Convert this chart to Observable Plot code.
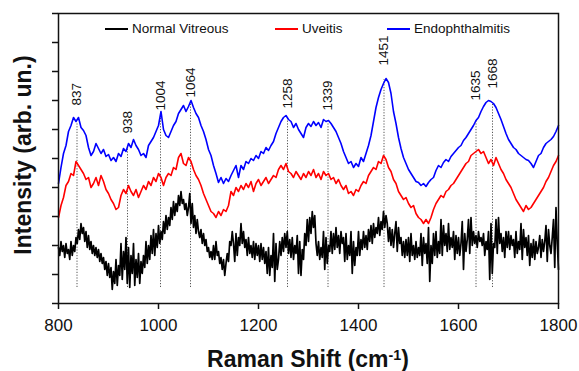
<!DOCTYPE html>
<html><head><meta charset="utf-8">
<script src="https://cdn.jsdelivr.net/npm/d3@7"></script>
<script src="https://cdn.jsdelivr.net/npm/@observablehq/plot@0.6"></script>
<style>
body{margin:0;background:#fff;font-family:"Liberation Sans",Arial,sans-serif;}
#wrap{position:relative;width:579px;height:371px;overflow:hidden;}
#wrap svg{position:absolute;left:0;top:0;}
.leg{position:absolute;top:20px;font-size:13.5px;line-height:18px;display:flex;align-items:center;white-space:nowrap;color:#111;}
.leg i{display:inline-block;width:23px;height:2px;margin-right:4px;}
.ytitle{position:absolute;left:23px;top:155px;transform:translate(-50%,-50%) rotate(-90deg);font-weight:bold;font-size:23px;line-height:23px;white-space:nowrap;color:#111;}
.xtitle{position:absolute;left:308px;top:348px;transform:translateX(-50%);font-weight:bold;font-size:23px;line-height:23px;white-space:nowrap;color:#111;}
.xtitle sup{font-size:0.62em;vertical-align:0.5em;line-height:0;}
</style></head>
<body>
<div id="wrap"></div>
<script>
// Raman shift grids (cm^-1)
const ramanShift = d3.range(800, 1805, 5);        // red & blue spectra, 5 cm^-1 steps
const ramanShiftFine = d3.range(800, 1801, 2.5);  // black spectrum, 2.5 cm^-1 steps

// Intensity readings (arb. un.)
const normalVitreous = [
56,48,62,52,58,46,60,50,54,44,62,48,58,52,66,60,74,64,80,70,
76,62,72,56,68,54,62,50,58,48,56,46,54,42,50,40,46,34,42,28,
40,26,36,14,32,20,44,18,38,28,60,24,52,34,66,20,56,16,48,30,
60,18,44,26,50,20,42,30,48,36,62,40,58,44,68,50,74,48,70,56,
78,60,72,64,82,70,88,74,86,78,96,84,102,88,100,92,108,98,112,100,
104,94,100,88,96,110,80,100,76,88,70,84,72,66,74,60,70,58,64,52,
56,46,52,44,58,44,62,48,52,40,46,34,44,28,40,50,42,62,58,72,
60,42,70,48,66,58,80,60,72,56,64,48,66,50,58,46,62,44,60,48,
58,42,60,44,56,40,52,30,56,28,48,36,70,22,60,34,44,62,48,66,
52,70,56,72,50,64,46,66,44,58,50,68,30,62,28,54,44,70,58,84,
62,86,70,92,76,88,60,48,62,44,56,46,72,34,66,40,58,52,72,50,
70,54,76,56,68,50,72,60,66,42,70,44,58,48,72,30,62,38,56,48,
72,48,64,54,72,56,68,54,74,62,78,60,80,66,76,70,86,68,82,74,
92,76,88,80,62,76,58,74,56,70,82,52,76,60,66,48,62,46,64,48,
66,42,70,48,58,44,62,46,56,48,70,38,66,50,60,40,76,22,58,40,
70,48,72,46,62,50,84,48,78,58,70,52,80,54,66,56,72,44,68,50,
66,48,60,82,34,70,52,64,84,50,86,58,72,60,68,56,72,62,66,58,
70,48,62,54,72,24,80,30,60,56,84,50,86,60,70,52,66,46,72,56,
72,54,68,58,64,46,72,50,62,54,80,44,74,56,66,48,68,38,60,46,
64,44,62,50,56,68,46,64,52,62,78,42,74,58,50,66,84,36,96,60,
34];

const uveitis = [
86,98,106,118,122,130,128,142,138,134,130,124,126,116,120,126,118,128,122,114,
110,104,100,94,96,108,114,110,118,112,108,114,106,112,118,114,122,118,126,122,
130,126,118,126,130,128,136,134,146,150,140,138,146,142,134,128,124,118,110,104,
98,92,90,86,92,88,94,92,98,112,108,116,112,118,114,120,116,122,112,120,
124,118,122,126,120,124,128,126,134,138,134,140,132,130,126,132,128,124,130,126,
132,128,134,126,130,124,132,128,130,124,126,120,124,118,114,118,110,112,108,114,
112,118,122,120,128,132,136,134,142,140,148,144,136,132,124,120,112,108,104,106,
100,96,98,90,86,84,80,84,80,86,94,100,104,108,106,112,114,118,120,124,
128,132,136,140,142,148,150,152,154,150,152,146,140,144,138,146,140,134,130,124,
120,116,110,104,100,96,92,98,94,96,100,104,108,112,116,122,126,132,138,142,
148];

const endophthalmitis = [
120,136,150,158,172,178,186,182,186,176,173,168,156,148,152,160,155,150,154,147,
149,143,146,142,150,147,155,152,160,156,164,158,154,148,150,146,158,162,166,172,
178,192,174,168,166,172,178,182,190,194,198,192,197,203,196,190,186,178,172,164,
154,148,138,130,121,126,120,125,122,128,133,138,126,138,134,142,140,145,143,148,
145,152,150,156,153,158,162,170,176,182,186,188,184,182,176,180,174,170,166,176,
180,177,182,178,181,176,184,182,183,180,176,172,166,160,152,146,140,142,136,140,
137,146,142,150,158,168,182,196,206,214,220,225,221,210,192,180,166,155,146,140,
134,130,126,122,121,118,120,117,121,124,126,133,138,136,141,144,142,147,150,153,
156,158,163,166,170,174,178,183,186,192,197,201,203,202,200,196,190,184,177,170,
164,160,156,154,150,148,146,144,143,140,136,142,148,150,156,160,162,164,167,172,
178];

// Assigned peaks
const peakShifts = [837, 938, 1004, 1064, 1258, 1339, 1451, 1635, 1668];
const peakLabels = ["837", "938", "1004", "1064", "1258", "1339", "1451", "1635", "1668"];
const peakLineTop = [180, 158, 188, 200, 186, 181, 224, 183, 201];
const peakLabelBase = [198, 170, 193, 206, 195, 193, 238, 203, 215];
const peakLineBottom = 16;

const xTicks = [800, 1000, 1200, 1400, 1600, 1800];
const yTicks = [0, 29, 58, 87, 116, 145, 174, 203, 232, 261, 290];

const seriesNames = ["Normal Vitreous", "Uveitis", "Endophthalmitis"];
const seriesColors = ["#000000", "#ff0000", "#0000ff"];

const plot = Plot.plot({
  width: 579, height: 371,
  marginLeft: 58, marginRight: 21, marginTop: 13, marginBottom: 68,
  style: {fontFamily: "'Liberation Sans', Arial, sans-serif", background: "transparent", color: "#111"},
  x: {domain: [800, 1800]},
  y: {domain: [0, 290]},
  marks: [
    Plot.ruleX(peakShifts, {x: d => d, y1: peakLineBottom, y2: peakLineTop, stroke: "#555", strokeWidth: 1, strokeDasharray: "1.2,1.6"}),
    Plot.lineY(normalVitreous, {x: ramanShiftFine, stroke: seriesColors[0], strokeWidth: 1.7}),
    Plot.lineY(uveitis, {x: ramanShift, stroke: seriesColors[1], strokeWidth: 1.6}),
    Plot.lineY(endophthalmitis, {x: ramanShift, stroke: seriesColors[2], strokeWidth: 1.6}),
    Plot.text(peakShifts, {x: d => d, y: peakLabelBase, text: peakLabels, rotate: -90, textAnchor: "start", fontSize: 13.5, fill: "#111"}),
    Plot.axisX({ticks: xTicks, tickSize: 6, tickPadding: 9, fontSize: 17, tickFormat: d => String(d), label: null, strokeWidth: 1.5}),
    Plot.axisY({ticks: yTicks, tickSize: 6, tickFormat: () => "", label: null, strokeWidth: 1.5}),
    Plot.frame({stroke: "#111", strokeWidth: 1.5})
  ]
});

const wrap = document.getElementById("wrap");
wrap.appendChild(plot);

const legendLeft = [105, 275, 387];
seriesNames.forEach((name, i) => {
  const d = document.createElement("div");
  d.className = "leg";
  d.style.left = legendLeft[i] + "px";
  d.innerHTML = `<i style="background:${seriesColors[i]}"></i><span>${name}</span>`;
  wrap.appendChild(d);
});

const yt = document.createElement("div");
yt.className = "ytitle";
yt.textContent = "Intensity (arb. un.)";
wrap.appendChild(yt);

const xt = document.createElement("div");
xt.className = "xtitle";
xt.innerHTML = "Raman Shift (cm<sup>-1</sup>)";
wrap.appendChild(xt);
</script>
</body></html>
